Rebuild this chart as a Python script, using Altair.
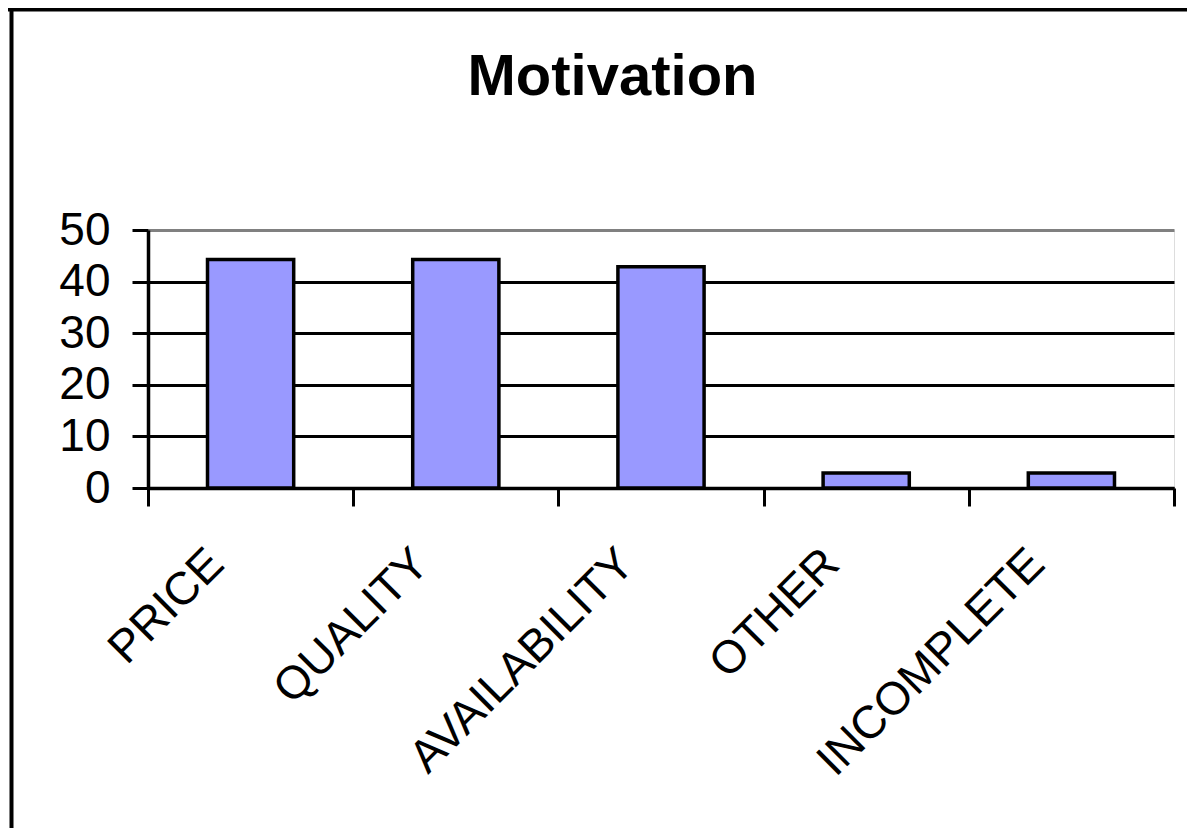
import altair as alt
import pandas as pd

categories = ["PRICE", "QUALITY", "AVAILABILITY", "OTHER", "INCOMPLETE"]
values = [44.3, 44.3, 42.9, 2.9, 2.9]
y_ticks = [0, 10, 20, 30, 40, 50]
title_text = "Motivation"

df = pd.DataFrame({"category": categories, "value": values})

FONT = "Liberation Sans"
W, H = 1026, 258

bars = alt.Chart(df).mark_bar(
    color="#9999FF", stroke="black", strokeWidth=3.5, clip=False,
    width=alt.RelativeBandSize(0.42),
).encode(
    x=alt.X(
        "category:N",
        sort=categories,
        scale=alt.Scale(paddingInner=0, paddingOuter=0),
        axis=alt.Axis(
            title=None,
            labelAngle=-45,
            labelAlign="right",
            labelBaseline="alphabetic",
            labelFont=FONT,
            labelFontSize=46,
            labelColor="black",
            labelPadding=60,
            labelOffset=-25,
            labelLimit=0,
            labelOverlap=False,
            tickBand="extent",
            tickSize=18,
            tickWidth=3,
            tickColor="black",
            domainColor="black",
            domainWidth=3.5,
            grid=False,
        ),
    ),
    y=alt.Y(
        "value:Q",
        scale=alt.Scale(domain=[0, 50], nice=False),
        axis=alt.Axis(
            title=None,
            values=y_ticks,
            labelFont=FONT,
            labelFontSize=46,
            labelColor="black",
            labelPadding=22,
            tickSize=16,
            tickWidth=3,
            tickColor="black",
            domainColor="black",
            domainWidth=3.5,
            grid=True,
            gridColor=alt.condition(alt.datum.value == 50, alt.value("#808080"), alt.value("black")),
            gridWidth=3,
            gridOpacity=1,
        ),
    ),
)

frame_data = alt.Data(values=[{"f": 1}])
top_border = alt.Chart(frame_data).mark_rule(color="black", strokeWidth=4, clip=False).encode(
    x=alt.value(-140), x2=alt.value(W + 60), y=alt.value(-220.5)
)
left_border = alt.Chart(frame_data).mark_rule(color="black", strokeWidth=4, clip=False).encode(
    x=alt.value(-136.5), y=alt.value(-222.5), y2=alt.value(H + 400)
)
title = alt.Chart(frame_data).mark_text(
    font=FONT, fontSize=58, fontWeight="bold", color="black",
    align="center", baseline="alphabetic", clip=False,
).encode(
    text=alt.value(title_text), x=alt.value(464.5), y=alt.value(-135)
)

chart = alt.layer(bars, top_border, left_border, title).properties(
    width=W,
    height=H,
    autosize=alt.AutoSizeParams(type="none"),
    padding={"left": 140, "top": 222, "right": 13, "bottom": 340},
).configure_view(
    fill="#C0C0C0", stroke="#808080", strokeWidth=3
).configure(background="white")

chart.save("out.html", embed_options={"renderer": "svg", "actions": False})
